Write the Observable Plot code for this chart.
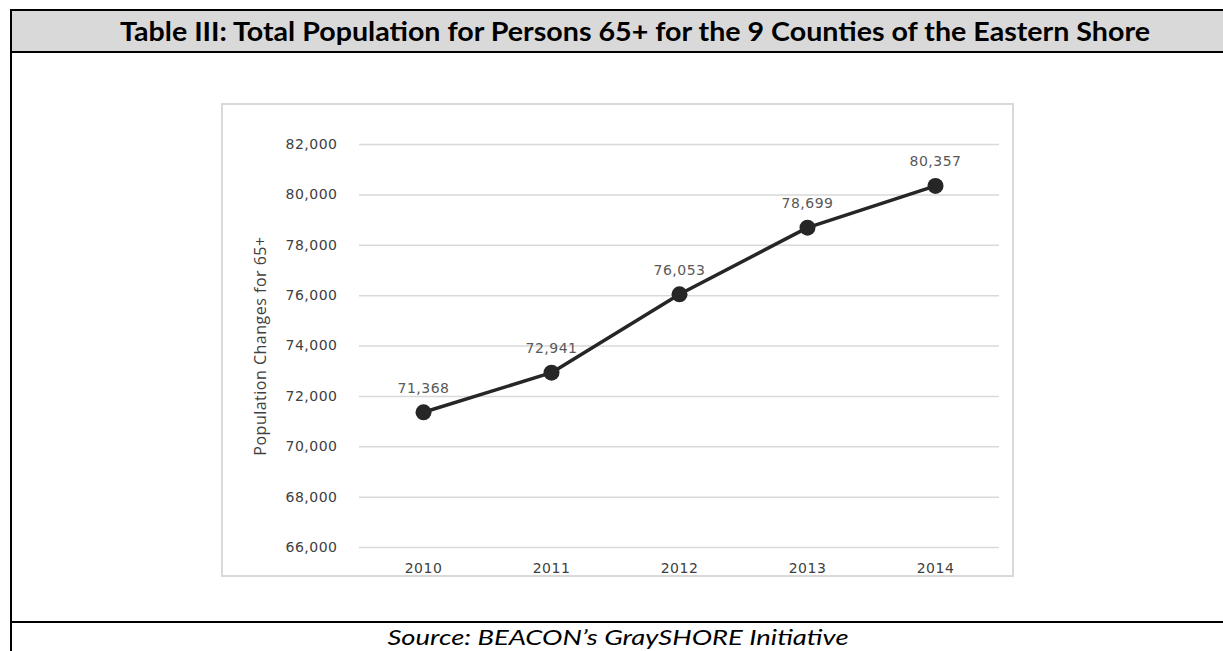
<!DOCTYPE html>
<html><head><meta charset="utf-8">
<script src="https://cdn.jsdelivr.net/npm/d3@7"></script>
<script src="https://cdn.jsdelivr.net/npm/@observablehq/plot@0.6"></script>
<style>
body{margin:0;background:#fff;width:1223px;height:651px;position:relative;overflow:hidden;font-family:Lato,sans-serif}
.abs{position:absolute}
#title{position:absolute;left:12px;top:11px;width:1211px;height:40px;background:#d9d9d9;font-weight:bold;font-size:26px;line-height:40px;color:#000}
#title span{position:absolute;left:623px;top:0;white-space:nowrap;transform-origin:center center}
#source{position:absolute;top:623px;height:28px;left:0;width:1223px;font-style:italic;font-size:21px;line-height:28px;color:#000}
#source span{position:absolute;left:618px;top:0;white-space:nowrap;transform-origin:center center}
#box{position:absolute;left:221px;top:103px;width:793px;height:474px;border:2px solid #d9d9d9;box-sizing:border-box}
#chart{position:absolute;left:222px;top:104px}
</style></head><body>
<div class="abs" style="left:10px;top:9px;width:1213px;height:2px;background:#000"></div>
<div class="abs" style="left:10px;top:9px;width:2px;height:642px;background:#000"></div>
<div id="title"><span data-w="1030">Table III: Total Population for Persons 65+ for the 9 Counties of the Eastern Shore</span></div>
<div class="abs" style="left:10px;top:51px;width:1213px;height:2px;background:#000"></div>
<div class="abs" style="left:10px;top:621px;width:1213px;height:2px;background:#000"></div>
<div id="source"><span data-w="461">Source: BEACON’s GraySHORE Initiative</span></div>
<div id="box"></div>
<div id="chart"></div>
<script>
const years = ["2010", "2011", "2012", "2013", "2014"];
const population = [71368, 72941, 76053, 78699, 80357];
const yTicks = [66000, 68000, 70000, 72000, 74000, 76000, 78000, 80000, 82000];
const yLabel = "Population Changes for 65+";

const data = years.map((y, i) => ({year: y, value: population[i]}));
const fmt = d3.format(",");
const tickFont = "'DejaVu Sans', Verdana, sans-serif";

const chart = Plot.plot({
  width: 792,
  height: 473,
  marginLeft: 137,
  marginRight: 15,
  marginTop: 40,
  marginBottom: 30,
  style: {fontFamily: tickFont, fontSize: "14px", color: "#595959", background: "transparent", letterSpacing: "0.5px"},
  x: {type: "point", domain: years, padding: 0.5, label: null},
  y: {domain: [66000, 82000], ticks: yTicks, label: null},
  marks: [
    Plot.ruleY(yTicks, {stroke: "#d9d9d9", strokeWidth: 1.5}),
    Plot.axisY({ticks: yTicks, tickSize: 0, tickPadding: 22, tickFormat: fmt, fontSize: 14, fill: "#404040", label: null}),
    Plot.axisX({tickSize: 0, tickPadding: 16, fontSize: 14, fill: "#404040", label: null}),
    Plot.text([yLabel], {frameAnchor: "left", textAnchor: "middle", dx: -99, rotate: -90, fontSize: 16, fill: "#404040", fontFamily: "'Open Sans', sans-serif"}),
    Plot.line(data, {x: "year", y: "value", stroke: "#262626", strokeWidth: 3.5}),
    Plot.dot(data, {x: "year", y: "value", r: 8, fill: "#262626", stroke: "none"}),
    Plot.text(data, {x: "year", y: "value", text: d => fmt(d.value), dy: -24, fontSize: 14, fill: "#595959"})
  ]
});
document.getElementById("chart").appendChild(chart);

document.querySelectorAll("span[data-w]").forEach(s => {
  const w = s.getBoundingClientRect().width;
  const k = (+s.dataset.w) / w;
  s.style.transform = `translateX(-50%) scaleX(${k})`;
});
</script>
</body></html>
